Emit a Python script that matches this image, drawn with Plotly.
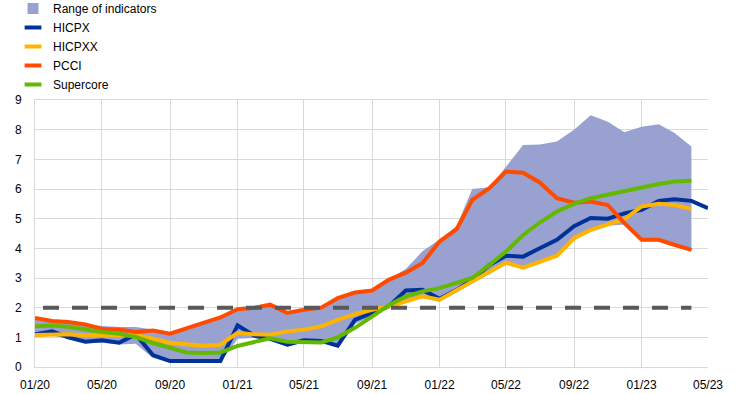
import pandas as pd
import plotly.graph_objects as go

months = pd.date_range("2020-01-01", "2023-05-01", freq="MS")
months40 = months[:40]

hicpx = [1.1, 1.2, 1.0, 0.85, 0.9, 0.82, 1.1, 0.4, 0.2, 0.2, 0.2, 0.2,
         1.4, 1.05, 0.95, 0.75, 0.9, 0.88, 0.72, 1.59, 1.82, 2.04, 2.58, 2.6,
         2.3, 2.6, 2.94, 3.44, 3.75, 3.72, 4.0, 4.29, 4.75, 5.02, 5.0, 5.18,
         5.3, 5.6, 5.65, 5.6, 5.35]
hicpxx = [1.08, 1.1, 1.1, 1.07, 1.08, 1.1, 1.08, 0.95, 0.82, 0.77, 0.72, 0.75,
          1.15, 1.1, 1.09, 1.2, 1.26, 1.37, 1.59, 1.78, 1.93, 2.04, 2.21, 2.38,
          2.27, 2.6, 2.88, 3.22, 3.52, 3.35, 3.56, 3.75, 4.34, 4.62, 4.81, 4.98,
          5.41, 5.5, 5.46, 5.33]
pcci = [1.65, 1.55, 1.52, 1.43, 1.28, 1.26, 1.18, 1.23, 1.12, 1.31, 1.5, 1.67,
        1.95, 2.0, 2.1, 1.82, 1.93, 2.0, 2.32, 2.51, 2.58, 2.94, 3.18, 3.5,
        4.23, 4.65, 5.63, 6.03, 6.59, 6.55, 6.22, 5.69, 5.54, 5.58, 5.46, 4.85,
        4.29, 4.29, 4.12, 3.95]
supercore = [1.37, 1.4, 1.36, 1.26, 1.18, 1.12, 1.01, 0.81, 0.64, 0.49, 0.47, 0.49,
             0.71, 0.83, 0.97, 0.85, 0.83, 0.83, 1.0, 1.32, 1.7, 2.08, 2.38, 2.55,
             2.66, 2.83, 3.0, 3.44, 3.89, 4.45, 4.87, 5.24, 5.5, 5.69, 5.82, 5.94,
             6.05, 6.17, 6.25, 6.28]
range_upper = [1.68, 1.58, 1.52, 1.45, 1.38, 1.35, 1.35, 1.26, 1.14, 1.33, 1.52, 1.7,
               1.97, 2.02, 2.12, 1.85, 1.95, 2.02, 2.34, 2.53, 2.6, 2.96, 3.3, 3.9,
               4.3, 4.75, 6.0, 6.06, 6.75, 7.48, 7.5, 7.6, 8.0, 8.49, 8.27, 7.91,
               8.1, 8.18, 7.9, 7.43]
range_lower = [1.0, 1.05, 0.95, 0.8, 0.82, 0.76, 0.78, 0.3, 0.14, 0.16, 0.16, 0.15,
               0.95, 0.98, 0.9, 0.68, 0.84, 0.82, 0.66, 1.45, 1.72, 1.98, 2.18, 2.33,
               2.2, 2.52, 2.82, 3.15, 3.45, 3.3, 3.5, 3.7, 4.28, 4.56, 4.76, 4.8,
               4.24, 4.24, 4.06, 3.9]
target = [2.0] * 40

tick_dates = pd.date_range("2020-01-01", "2023-05-01", freq="4MS")
tick_labels = [d.strftime("%m/%y") for d in tick_dates]

C_RANGE = "#98a1d0"
C_HICPX = "#003299"
C_HICPXX = "#ffb400"
C_PCCI = "#ff4b00"
C_SUPER = "#65b800"
C_DASH = "#595959"

fig = go.Figure()
fig.add_trace(go.Scatter(x=months40, y=range_lower, mode="lines", line=dict(width=0),
                         showlegend=False, hoverinfo="skip"))
fig.add_trace(go.Scatter(x=months40, y=range_upper, mode="lines", line=dict(width=0),
                         fill="tonexty", fillcolor=C_RANGE, showlegend=False))
fig.add_trace(go.Scatter(x=months, y=hicpx, mode="lines", line=dict(color=C_HICPX, width=4),
                         showlegend=False))
fig.add_trace(go.Scatter(x=months40, y=hicpxx, mode="lines", line=dict(color=C_HICPXX, width=4),
                         showlegend=False))
fig.add_trace(go.Scatter(x=months40, y=pcci, mode="lines", line=dict(color=C_PCCI, width=4),
                         showlegend=False))
fig.add_trace(go.Scatter(x=months40, y=supercore, mode="lines", line=dict(color=C_SUPER, width=4),
                         showlegend=False))
fig.add_trace(go.Scatter(x=months40, y=target, mode="lines",
                         line=dict(color=C_DASH, width=4, dash="0px,8px,16px,5px"),
                         showlegend=False))

# legend entries
legend_items = [("Range of indicators", C_RANGE, "square", 11),
                ("HICPX", C_HICPX, "line-ew", 12),
                ("HICPXX", C_HICPXX, "line-ew", 12),
                ("PCCI", C_PCCI, "line-ew", 12),
                ("Supercore", C_SUPER, "line-ew", 12)]
for name, col, sym, sz in legend_items:
    if sym == "square":
        mk = dict(symbol="square", size=sz, color=col, line=dict(width=0))
    else:
        mk = dict(symbol="line-ew", size=sz, color=col, line=dict(color=col, width=4))
    fig.add_trace(go.Scatter(x=[None], y=[None], mode="markers", name=name, marker=mk,
                             showlegend=True))

fig.update_layout(
    width=744, height=394,
    margin=dict(l=35, r=36, t=100, b=27, autoexpand=False),
    paper_bgcolor="white", plot_bgcolor="white",
    font=dict(family="Liberation Sans, Arial, sans-serif", size=12, color="#000000"),
    legend=dict(xref="container", yref="paper", x=0.0175, y=1.397, xanchor="left", yanchor="top",
                bgcolor="rgba(0,0,0,0)", tracegroupgap=0, itemsizing="trace",
                traceorder="normal", font=dict(size=12), itemwidth=30),
    showlegend=True,
)
fig.update_xaxes(type="date", range=["2020-01-01", "2023-05-01"],
                 tickvals=tick_dates, ticktext=tick_labels, tickangle=0,
                 showgrid=True, gridcolor="#d9d9d9", gridwidth=1,
                 showline=True, linecolor="#d9d9d9", linewidth=1, mirror=True,
                 zeroline=False, ticks="", ticklabelstandoff=7)
fig.update_yaxes(range=[0, 9], dtick=1, tick0=0,
                 showgrid=True, gridcolor="#d9d9d9", gridwidth=1,
                 showline=True, linecolor="#d9d9d9", linewidth=1,
                 zeroline=False, ticks="", ticklabelstandoff=10)

fig.write_html("out.html", config={"displayModeBar": False},
               post_script="document.body.style.margin='0';")
